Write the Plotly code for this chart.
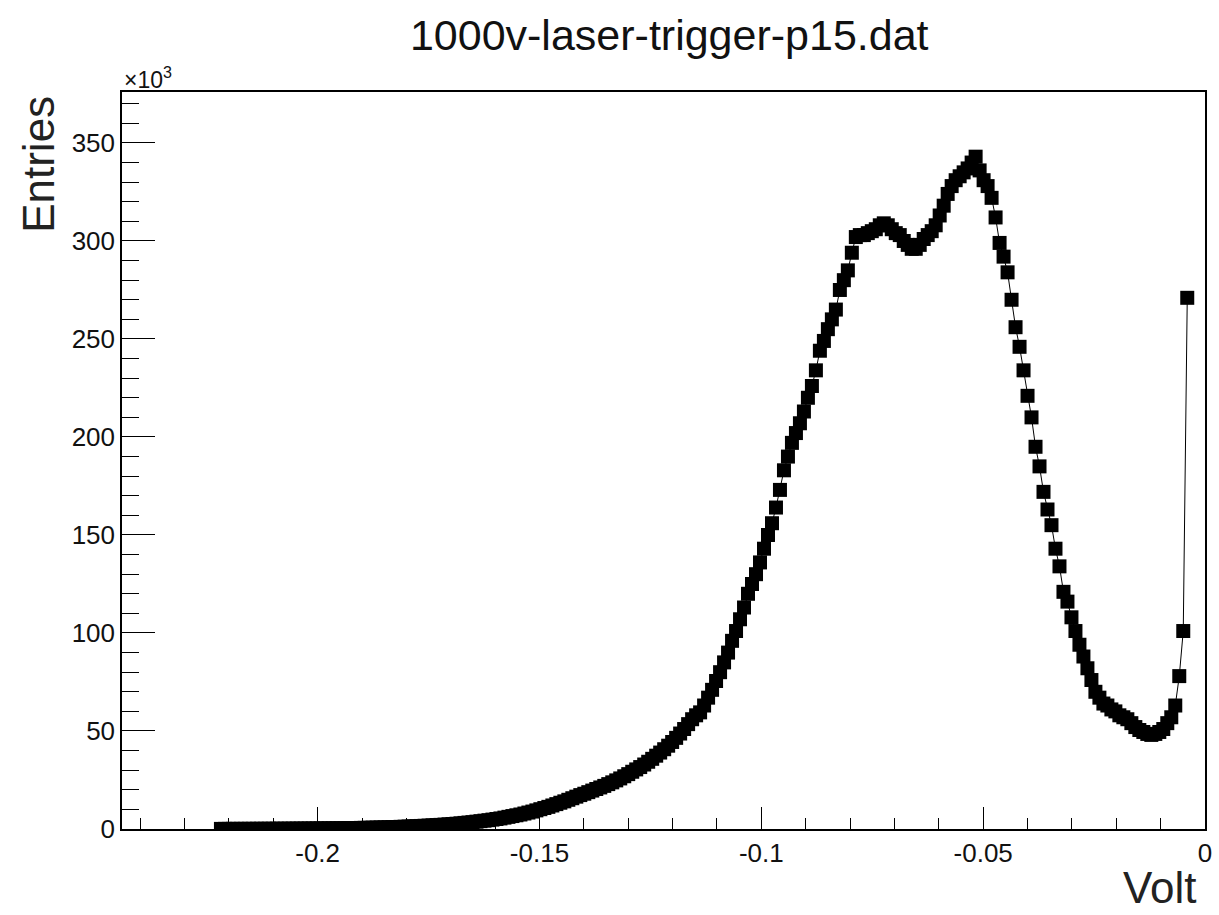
import plotly.graph_objects as go

# ---- data ----
x_start = -0.2218      # first sample (V)
x_step = 0.0009        # sample spacing (V)

entries_k = [
    # i 0-9
    0.05, 0.06, 0.05, 0.07, 0.06, 0.08, 0.07, 0.09, 0.08, 0.10,
    # 10-19
    0.10, 0.11, 0.12, 0.12, 0.14, 0.15, 0.15, 0.17, 0.18, 0.19,
    # 20-29
    0.21, 0.22, 0.24, 0.25, 0.27, 0.29, 0.31, 0.33, 0.35, 0.38,
    # 30-39
    0.40, 0.43, 0.46, 0.49, 0.52, 0.56, 0.60, 0.64, 0.68, 0.73,
    # 40-49
    0.78, 0.84, 0.90, 0.96, 1.03, 1.10, 1.18, 1.26, 1.35, 1.45,
    # 50-59
    1.55, 1.65, 1.75, 1.87, 2.0, 2.1, 2.25, 2.4, 2.55, 2.7,
    # 60-69
    2.9, 3.1, 3.3, 3.5, 3.75, 4.0, 4.25, 4.5, 4.8, 5.1,
    # 70-79
    5.4, 5.8, 6.2, 6.6, 7.0, 7.4, 7.9, 8.4, 8.9, 9.5,
    # 80-89
    10.1, 10.7, 11.3, 12.0, 12.7, 13.4, 14.1, 14.9, 15.7, 16.5,
    # 90-99
    17.3, 18.0, 18.8, 19.6, 20.4, 21.2, 22.0, 22.9, 23.8, 24.8,
    # 100-109
    25.8, 26.9, 28.0, 29.2, 30.4, 31.6, 32.9, 34.3, 35.8, 37.4,
    # 110-119
    39.0, 40.7, 42.5, 44.4, 46.5, 48.7, 51.0, 53.5, 56.0, 58.0,
    # 120-129
    59.5, 63.0, 67.0, 71.0, 75.5, 80.0, 85.0, 90.0, 96.0, 101.0,
    # 130-139
    107, 113, 120, 125, 130, 136, 143, 150, 156, 164,
    # 140-149
    173, 183, 190, 197, 202, 207, 213, 220, 226, 234,
    # 150-159
    244, 249, 255, 260, 265, 275, 280, 285, 294, 302,
    # 160-169
    303, 303, 304, 305, 306, 308, 309, 308, 306, 304,
    # 170-179
    303, 300, 298, 296, 296, 298, 301, 303, 305, 308,
    # 180-189
    313, 318, 324, 328, 331, 333, 335, 337, 340, 343,
    # 190-199
    336, 331, 328, 322, 312, 299, 292, 284, 270, 256,
    # 200-209
    246, 234, 221, 210, 195, 185, 172, 163, 155, 143,
    # 210-219
    134, 121, 116, 108, 101, 94, 88, 82, 76, 70,
    # 220-229
    67, 64, 63, 61, 60, 58, 57, 56, 54, 52,
    # 230-239
    50.5, 49.5, 48.5, 48, 48.5, 49.5, 51, 54, 57, 63,
    # 240-242
    78, 101, 271,
]

volt = [x_start + x_step * i for i in range(len(entries_k))]

x_tick_vals = [-0.2, -0.15, -0.1, -0.05, 0.0]
x_tick_text = ["-0.2", "-0.15", "-0.1", "-0.05", "0"]
y_tick_vals = [0, 50, 100, 150, 200, 250, 300, 350]
y_tick_text = ["0", "50", "100", "150", "200", "250", "300", "350"]

FONT = "Liberation Sans, Arial, Helvetica, sans-serif"

fig = go.Figure()
fig.add_trace(go.Scatter(
    x=volt, y=entries_k, mode="lines+markers",
    line=dict(color="black", width=1),
    marker=dict(symbol="square", size=14, color="black", line=dict(width=0)),
    showlegend=False, hoverinfo="skip",
))

fig.update_layout(
    width=1219, height=915,
    margin=dict(l=122, r=7, t=92, b=86),
    paper_bgcolor="white", plot_bgcolor="white",
    font=dict(family=FONT, color="black"),
    title=dict(text="1000v-laser-trigger-p15.dat", x=0.549, y=0.962,
               xanchor="center", yanchor="middle", xref="container", yref="container",
               font=dict(size=43, family=FONT, color="#111")),
    xaxis=dict(
        range=[-0.2441, 0.0], tickmode="array", tickvals=x_tick_vals, ticktext=x_tick_text,
        ticks="inside", ticklen=22, tickwidth=1, tickcolor="black",
        minor=dict(tickmode="linear", tick0=0, dtick=0.01, ticks="inside", ticklen=11,
                   tickwidth=1, tickcolor="black", showgrid=False),
        showline=True, linecolor="black", linewidth=1.5, mirror=True,
        showgrid=False, zeroline=False,
        tickfont=dict(size=26, family=FONT, color="#111"),
    ),
    yaxis=dict(
        range=[0, 376], tickmode="array", tickvals=y_tick_vals, ticktext=y_tick_text,
        ticks="inside", ticklen=33, tickwidth=1, tickcolor="black",
        minor=dict(tickmode="linear", tick0=0, dtick=10, ticks="inside", ticklen=17,
                   tickwidth=1, tickcolor="black", showgrid=False),
        showline=True, linecolor="black", linewidth=1.5, mirror=True,
        showgrid=False, zeroline=False,
        tickfont=dict(size=26, family=FONT, color="#111"),
    ),
    annotations=[
        dict(text="Entries", xref="paper", yref="paper", x=-0.077, y=0.902,
             xanchor="center", yanchor="middle", textangle=-90, showarrow=False,
             font=dict(size=44, family=FONT, color="#222")),
        dict(text="Volt", xref="paper", yref="paper", x=0.9936, y=-0.080,
             xanchor="right", yanchor="middle", showarrow=False,
             font=dict(size=44, family=FONT, color="#222")),
        dict(text="×10<sup>3</sup>", xref="paper", yref="paper", x=0.0, y=1.019,
             xanchor="left", yanchor="middle", showarrow=False,
             font=dict(size=23, family=FONT, color="#111")),
    ],
)

fig.write_html("out.html")
